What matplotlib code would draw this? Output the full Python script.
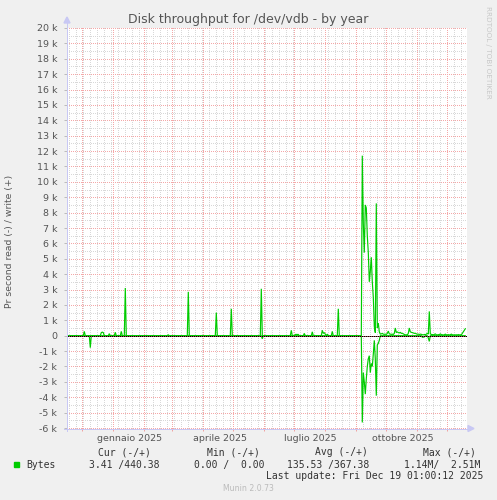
import numpy as np
import matplotlib
matplotlib.use('Agg')
import matplotlib.pyplot as plt
import matplotlib.dates as mdates
import pandas as pd
from matplotlib.patches import Polygon, Rectangle
from matplotlib.lines import Line2D

W, H = 497, 500
BASE = pd.Timestamp('2024-12-01')

# ---- data: day offset from 2024-12-01, bytes per second ----
write_days = [2, 19, 20, 21, 27, 33, 39, 43, 86, 106, 134, 149, 179, 209,
              213, 214, 215, 216, 222, 230, 240, 241, 242, 243, 245, 250, 256,
              280, 281, 282, 283, 284, 285, 286, 287, 288, 289, 290, 291, 292,
              293, 294, 295] + list(range(296, 384))
write_vals = [280, 200, 230, 200, 130, 220, 280, 3100, 60, 2850, 1500, 1750, 3050, 350,
              80, 80, 80, 80, 150, 250, 350, 150, 200, 100, 100, 280, 1750,
              11700, 7300, 5400, 8500, 8300, 6500, 5400, 3500, 4200, 5100, 3500, 2500, 600,
              200, 8600, 500,
              820, 250, 100, 120, 150, 100, 90, 100, 80, 150, 300, 120, 100, 90, 100, 80,
              150, 500, 200, 250, 200, 180, 220, 150, 160, 120, 80, 50, 60, 50, 150, 500,
              250, 220, 200, 180, 150, 160, 120, 100, 100, 80, 100, 90, 60, 50, 80, 60,
              100, 150, 100, 1580, 120, 80, 70, 60, 80, 120, 60, 50, 70, 60, 120, 70,
              60, 50, 60, 100, 60, 50, 70, 50, 60, 100, 60, 50, 60, 50, 60, 50,
              70, 50, 60, 50, 150, 250, 350, 450]
read_days = [8, 180, 280, 281, 282, 283, 284, 285, 286, 287, 288, 289, 290, 291, 292,
             293, 294, 295, 296, 297, 340, 341, 342, 346, 347]
read_vals = [780, 200, 5640, 2400, 3000, 3800, 2800, 2000, 1500, 1300, 2400, 1800, 2000,
             1200, 300, 1500, 3900, 600, 500, 300, 100, 100, 80, 150, 370]

first_day, last_day = -15, 383
ytick_vals = list(range(-6000, 20001, 1000))
month_labels = ['gennaio 2025', 'aprile 2025', 'luglio 2025', 'ottobre 2025']
month_label_dates = ['2025-01-01', '2025-04-01', '2025-07-01', '2025-10-01']

title = 'Disk throughput for /dev/vdb - by year'
ylabel = 'Pr second read (-) / write (+)'
legend_name = 'Bytes'
col_heads = ['Cur (-/+)', 'Min (-/+)', 'Avg (-/+)', 'Max (-/+)']
col_vals = ['3.41 /440.38', '0.00 /  0.00', '135.53 /367.38', '1.14M/  2.51M']
last_update = 'Last update: Fri Dec 19 01:00:12 2025'
munin_ver = 'Munin 2.0.73'
rrd_credit = 'RRDTOOL / TOBI OETIKER'

# ---- build series ----
days = np.arange(first_day, last_day + 1)
write = np.zeros(len(days))
write[np.searchsorted(days, write_days)] = write_vals
read = np.zeros(len(days))
read[np.searchsorted(days, read_days)] = read_vals
base_num = mdates.date2num(BASE.to_pydatetime())
xs = base_num + days

GREEN = '#00CC00'
BG = '#F0F0F0'
MGRID_RGB = (0.96, 0.66, 0.66)
GRID_RGB = (0.85, 0.85, 0.85)
AXIS = '#C8C8F4'
LW1 = 72.0 / 100.0  # 1 px in points

fig = plt.figure(figsize=(W / 100, H / 100), dpi=100, facecolor=BG)
ax = fig.add_axes([67 / W, (H - 428) / H, 400 / W, 400 / H])
ax.set_facecolor('none')
ax.patch.set_visible(False)
for s in ax.spines.values():
    s.set_visible(False)

ax.plot(xs, write, color=GREEN, lw=0.85, zorder=3, solid_joinstyle='miter')
ax.plot(xs, -read, color=GREEN, lw=0.85, zorder=3, solid_joinstyle='miter')
ax.axhline(0, color='black', lw=LW1, zorder=4)

ax.set_xlim(base_num - 15.3, base_num + 384.7)
ax.set_ylim(-6000, 20000)

# ticks
ax.set_yticks(ytick_vals)
ax.set_yticklabels(['0' if v == 0 else f'{v // 1000} k' for v in ytick_vals])
ax.tick_params(axis='y', length=2.5, width=0.7, color='#BBBBBB', pad=4.5,
               labelsize=6.8, labelcolor='#555555')
lab_pos = [mdates.date2num(pd.Timestamp(d).to_pydatetime()) + 16.5 for d in month_label_dates]
ax.set_xticks(lab_pos)
ax.set_xticklabels(month_labels)
ax.tick_params(axis='x', length=0, pad=4, labelsize=6.8, labelcolor='#555555')
months = pd.date_range('2024-12-01', '2025-12-01', freq='MS')
month_nums = [mdates.date2num(d.to_pydatetime()) for d in months]
ax.set_xticks(month_nums, minor=True)
ax.tick_params(axis='x', which='minor', length=2, width=0.7, color='#F0A0A0')

# ---- pixel-exact dotted grid (rrdtool style) ----
weeks = pd.date_range('2024-11-11', '2025-12-22', freq='W-MON')
week_nums = [mdates.date2num(d.to_pydatetime()) for d in weeks]
minor_y = [y for y in range(-6000, 20001, 500) if y % 1000]

bb = ax.get_window_extent()
c0, c1 = int(round(bb.x0)), int(round(bb.x1))
r0, r1 = int(round(H - bb.y1)), int(round(H - bb.y0))
grid_img = np.zeros((H, W, 4))
grid_img[r0:r1 + 1, c0:c1, :] = 1.0  # white plot background
top_img = np.zeros((H, W, 4))


def col_of(xv):
    return int(np.floor(ax.transData.transform((xv, 0))[0]))


def row_of(yv):
    return H - int(np.floor(ax.transData.transform((0, yv))[1] + 0.5))


def vline(img, c, rgb):
    if c0 <= c < c1:
        for r in range(r0, r1 + 1, 2):
            img[r, c, :3] = rgb
            img[r, c, 3] = 1


def hline(img, r, rgb):
    if r0 <= r <= r1:
        for c in range(c0, c1, 2):
            img[r, c, :3] = rgb
            img[r, c, 3] = 1


for xv in week_nums:
    vline(grid_img, col_of(xv), GRID_RGB)
for yv in minor_y:
    hline(grid_img, row_of(yv), GRID_RGB)
for xv in month_nums:
    vline(grid_img, col_of(xv), MGRID_RGB)
for yv in ytick_vals:
    hline(grid_img, row_of(yv), MGRID_RGB)
hline(top_img, row_of(0), (0.6, 0.3, 0.3))
fig.figimage(grid_img, xo=0, yo=0, origin='upper', zorder=-1)
fig.figimage(top_img, xo=0, yo=0, origin='upper', zorder=1)


def fx(px):
    return px / W


def fy(py):
    return 1 - py / H


# axis lines with arrows
fig.add_artist(Line2D([fx(67), fx(67)], [fy(431), fy(22)], color=AXIS, lw=LW1, zorder=2))
fig.add_artist(Line2D([fx(64), fx(469)], [fy(428.5), fy(428.5)], color=AXIS, lw=LW1, zorder=2))
fig.add_artist(Polygon([[fx(64), fy(23)], [fx(70), fy(23)], [fx(67), fy(17)]],
                       closed=True, color=AXIS, transform=fig.transFigure))
fig.add_artist(Polygon([[fx(468), fy(425.5)], [fx(468), fy(431.5)], [fx(474), fy(428.5)]],
                       closed=True, color=AXIS, transform=fig.transFigure))

# texts
fig.text(fx(248.5), fy(19), title, ha='center', va='center', fontsize=9, color='#555555')
fig.text(fx(10), fy(241.5), ylabel, ha='center', va='center', rotation=90,
         fontsize=6.7, color='#555555')
fig.text(fx(488), fy(52), rrd_credit, ha='center', va='center', rotation=270,
         fontsize=5.2, color='#C8C8C8')

mono = 'DejaVu Sans Mono'
TXT = '#333333'
head_x = [98, 207, 315, 423]
val_x = [89.3, 194.3, 287.3, 404]
for s, xp in zip(col_heads, head_x):
    fig.text(fx(xp), fy(452.3), s, ha='left', va='center', fontsize=7, family=mono, color=TXT)
for s, xp in zip(col_vals, val_x):
    fig.text(fx(xp), fy(464.7), s, ha='left', va='center', fontsize=7, family=mono, color=TXT)
fig.text(fx(26.5), fy(464.7), legend_name, ha='left', va='center', fontsize=7, family=mono, color=TXT)
fig.add_artist(Rectangle((fx(14), fy(467)), 5 / W, 5 / H, color=GREEN, transform=fig.transFigure))
fig.text(fx(483), fy(476.3), last_update, ha='right', va='center', fontsize=7, family=mono, color=TXT)
fig.text(fx(248), fy(488.7), munin_ver, ha='center', va='center', fontsize=5.6, color='#BBBBBB')

fig.savefig('out.png', dpi=100, facecolor=BG)
